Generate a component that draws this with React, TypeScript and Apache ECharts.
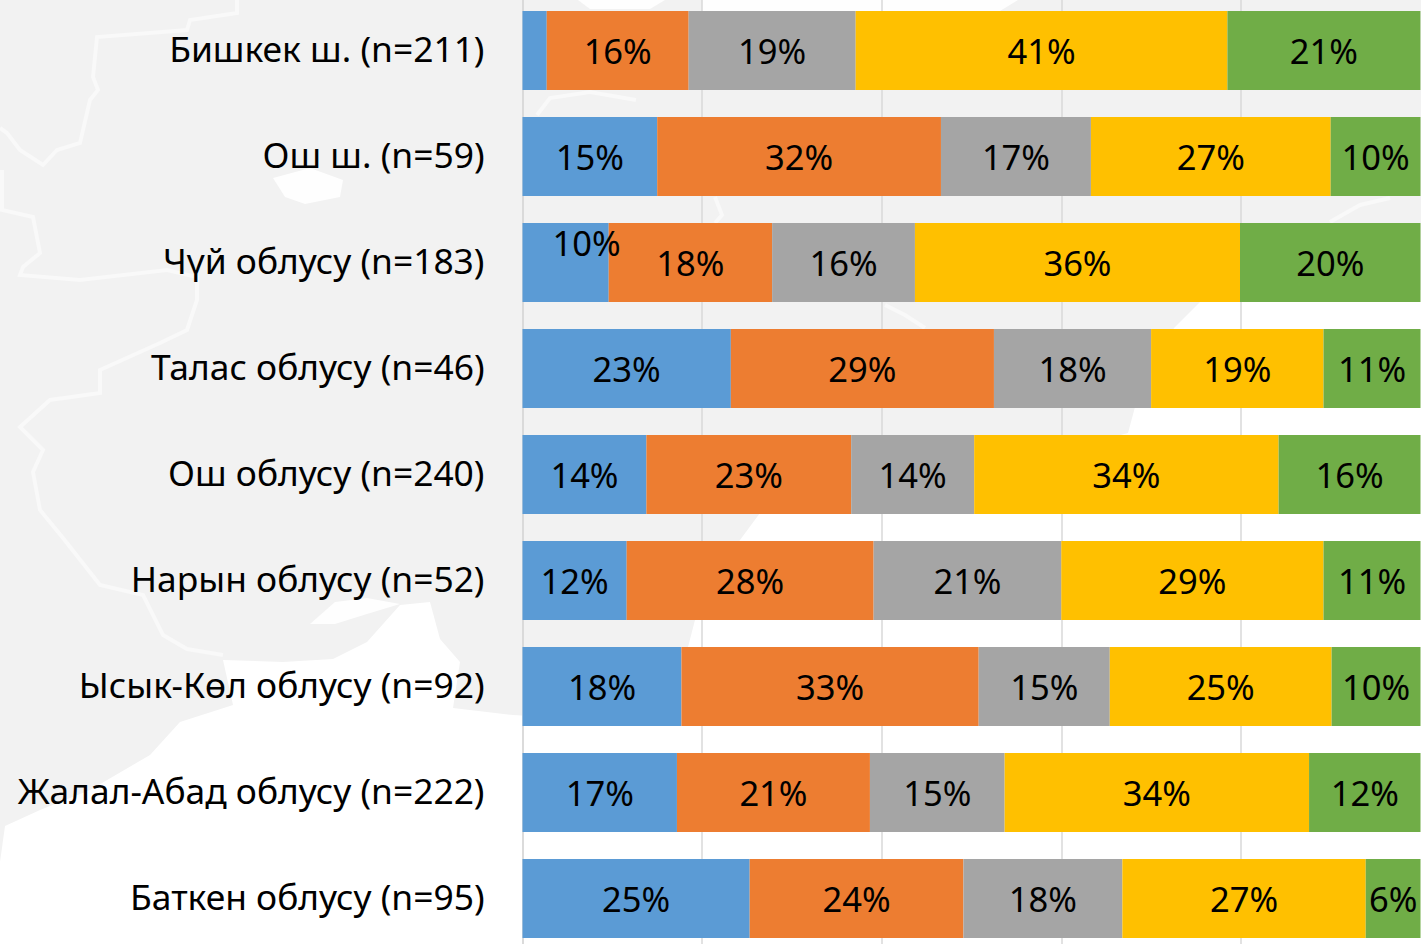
import React, { useEffect, useRef } from "react";
import * as echarts from "echarts";

const categories = [
  "Бишкек ш. (n=211)",
  "Ош ш. (n=59)",
  "Чүй облусу (n=183)",
  "Талас облусу (n=46)",
  "Ош облусу (n=240)",
  "Нарын облусу (n=52)",
  "Ысык-Көл облусу (n=92)",
  "Жалал-Абад облусу (n=222)",
  "Баткен облусу (n=95)",
];
const seriesA = [2.7, 15, 9.6, 23.2, 13.8, 11.6, 17.7, 17.2, 25.3];
const seriesB = [15.8, 31.6, 18.2, 29.3, 22.8, 27.5, 33.1, 21.49, 23.8];
const seriesC = [18.6, 16.7, 15.9, 17.5, 13.7, 20.9, 14.6, 15, 17.7];
const seriesD = [41.4, 26.7, 36.2, 19.2, 33.9, 29.2, 24.7, 33.9, 27.1];
const seriesE = [21.49, 10, 20.2, 10.9, 15.9, 10.9, 10, 12.49, 6.1];
const seriesColors = ["#5B9BD5", "#ED7D31", "#A5A5A5", "#FFC000", "#70AD47"];
const fontFamily = "'Noto Sans', sans-serif";

// Decorative backdrop: the pale map behind the chart.
const mapShape = [
  [0, 0], [1421, 0], [1421, 290], [1200, 302], [1174, 328], [1135, 407], [1128, 433],
  [950, 480], [760, 513], [740, 540], [695, 620], [688, 647], [640, 690], [530, 716],
  [513, 715], [453, 708], [460, 662], [440, 639], [430, 602], [400, 605], [367, 642],
  [333, 659], [283, 662], [223, 660], [233, 705], [180, 722], [150, 755], [90, 790],
  [40, 810], [5, 826], [0, 862],
];
const mapBorders = [
  [[237, 0], [237, 13], [190, 20], [187, 30], [97, 37], [93, 77], [98, 90], [90, 100], [80, 143], [57, 150], [43, 165], [20, 150], [7, 133], [0, 128]],
  [[2, 170], [2, 210], [33, 217], [40, 253], [23, 267], [20, 275], [80, 280], [167, 270], [197, 277], [197, 300], [187, 330], [160, 343], [100, 370], [100, 393], [50, 400], [20, 427], [43, 450], [33, 472], [40, 510], [63, 538], [100, 585], [143, 595], [163, 635], [187, 649], [223, 655]],
  [[537, 115], [550, 98], [590, 92], [636, 100]],
  [[715, 197], [722, 215], [715, 223]],
  [[1330, 222], [1360, 205], [1390, 198]],
  [[885, 305], [905, 315], [925, 328]],
];
const mapLakes = [
  [[273, 178], [310, 168], [343, 180], [340, 197], [305, 204], [285, 197]],
  [[310, 624], [335, 602], [367, 598], [400, 604], [367, 614], [335, 624]],
  [[702, 0], [1018, 0], [1000, 11], [702, 11]],
  [[578, 0], [665, 0], [650, 9], [590, 9]],
];

// The bands run past the page's lower edge, so the chart is taller than the page and clipped.
const overflowTop = 10;

export default function App() {
  const ref = useRef<HTMLDivElement>(null);

  useEffect(() => {
    const chart = echarts.init(ref.current!, undefined, { renderer: "svg" });
    const rows = [seriesA, seriesB, seriesC, seriesD, seriesE];
    const graphicChildren: any[] = [
      { type: "polygon", z: -3, silent: true, shape: { points: mapShape }, style: { fill: "#f2f2f2" } },
      ...mapLakes.map((points) => ({
        type: "polygon", z: -2, silent: true, shape: { points }, style: { fill: "#ffffff", opacity: 0.9 },
      })),
      ...mapBorders.map((points) => ({
        type: "polyline", z: -2, silent: true, shape: { points },
        style: { stroke: "#ffffff", lineWidth: 4, opacity: 0.5, fill: "none" },
      })),
    ];
    chart.setOption({
      animation: false,
      backgroundColor: "transparent",
      graphic: { elements: [{ type: "group", x: 0, y: overflowTop, children: graphicChildren }] },
      grid: { left: 522.5, top: overflowTop - 2.5, width: 898, height: 954, containLabel: false },
      xAxis: {
        type: "value",
        min: 0,
        max: 100,
        interval: 20,
        axisLabel: { show: false },
        axisTick: { show: false },
        axisLine: { show: false },
        splitLine: { show: true, showMaxLine: false, lineStyle: { color: "#d9d9d9", width: 1.5 } },
      },
      yAxis: {
        type: "category",
        inverse: true,
        data: categories,
        axisTick: { show: false },
        axisLine: { show: true, lineStyle: { color: "#d9d9d9", width: 1.5 } },
        axisLabel: {
          color: "#000000",
          fontSize: 35.4,
          fontFamily,
          margin: 38,
          verticalAlign: "bottom",
          lineHeight: 5,
        },
      },
      series: rows.map((values, s) => ({
        type: "bar",
        stack: "total",
        barWidth: 79,
        itemStyle: { color: seriesColors[s] },
        label: {
          show: true,
          position: "inside",
          color: "#000000",
          fontSize: 34.5,
          fontFamily,
          formatter: (p: any) => (p.value < 5 ? "" : `${Math.round(p.value)}%`),
        },
        data: values.map((value, i) =>
          s === 0 && i === 2
            ? { value, label: { offset: [21, -20] } }
            : value
        ),
      })),
    });
    return () => chart.dispose();
  }, []);

  return (
    <div style={{ position: "fixed", left: 0, top: 0, width: 1428, height: 944, overflow: "hidden", background: "#ffffff" }}>
      <div
        ref={ref}
        style={{ position: "absolute", left: 0, top: -overflowTop, width: 1428, height: 964 }}
      />
    </div>
  );
}
